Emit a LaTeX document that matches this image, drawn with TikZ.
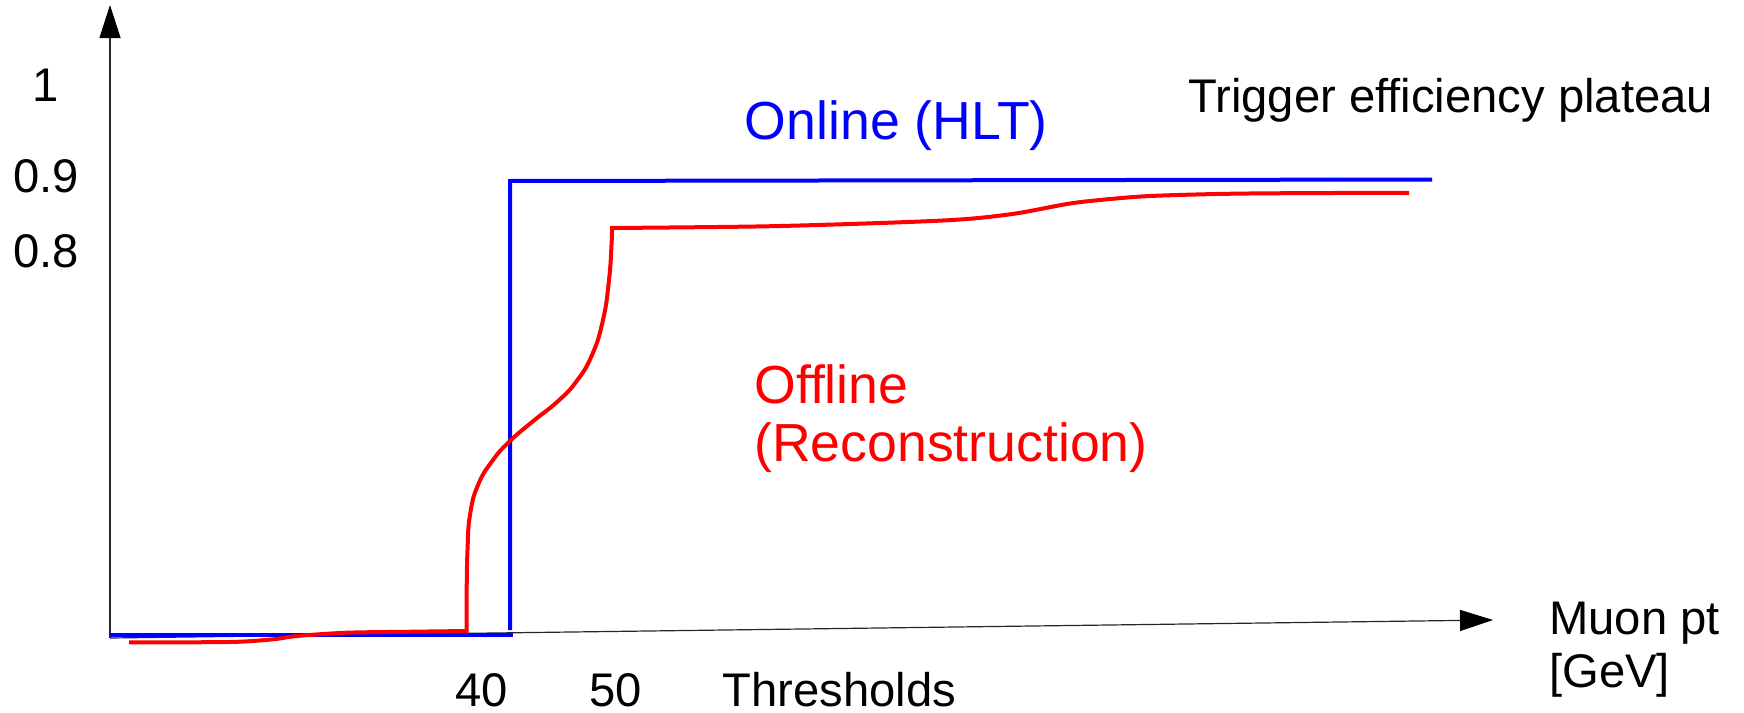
\documentclass[tikz,border=0pt]{standalone}
\usepackage{fontspec}
\setmainfont{Liberation Sans}
\usetikzlibrary{arrows.meta}
\begin{document}
\begin{tikzpicture}[x=0.5pt,y=-0.5pt,
  axis/.style={line width=0.6pt, black!85,
    -{Triangle[length=16.5pt,width=10.5pt,color=black]}},
  online/.style={line width=2pt, blue, line join=miter},
  offline/.style={line width=2pt, red, line join=miter},
  lbl/.style={inner sep=0pt, anchor=base west, font=\fontsize{23.6}{28}\selectfont},
  clbl/.style={inner sep=0pt, anchor=base west, font=\fontsize{26.8}{32}\selectfont}]
  \useasboundingbox (0,0) rectangle (1744,712);

  % axes
  \coordinate (origin) at (110,638);
  \coordinate (ytip) at (110,5);
  \coordinate (xtip) at (1493,620);
  \draw[axis] (origin) -- (ytip);
  \draw[axis] (origin) -- (xtip);

  % tick labels
  \node[lbl] (t1) at (32,101.7) {1};
  \node[lbl] (t09) at (13,192.7) {0.9};
  \node[lbl] (t08) at (13,267) {0.8};
  \node[lbl] (t40) at (455,706) {40};
  \node[lbl] (t50) at (589,706) {50};
  \node[lbl] (thr) at (722,706) {Thresholds};
  \node[lbl] (muon) at (1549,634) {Muon pt};
  \node[lbl] (gev) at (1549,687) {[GeV]};
  \node[lbl] (plateau) at (1188,112) {Trigger efficiency plateau};

  % online (HLT) step
  \draw[online] (110,634.5) -- (513,634.5);
  \draw[online] (510,630) -- (510,181) -- (1432,179.5);
  \node[clbl, blue] (onl) at (744.5,139.3) {Online (HLT)};

  % offline reconstruction turn-on curve
  \draw[offline]
    plot[smooth, tension=0.5] coordinates {(129,642.3) (230,642) (273,639.3) (297,636) (347,632.7) (413,631.7) (466.7,631)}
    -- (466.7,590)
    -- plot[smooth, tension=0.8] coordinates {(466.7,590) (467.5,550) (470,515) (478,485) (493,460) (510,441) (533.3,421) (557,402) (576,382) (592,355) (603,320) (609,280) (611.5,245) (612,228)}
    -- plot[smooth, tension=0.5] coordinates {(612,228) (767,226.3) (900,222.3) (967,219) (1017,213.3) (1067,204) (1100,200) (1150,196) (1233,193.7) (1333,193) (1409,193)};
  \node[clbl, red] (offa) at (754,403.3) {Offline};
  \node[clbl, red] (offb) at (754,461.7) {(Reconstruction)};
\end{tikzpicture}
\end{document}
